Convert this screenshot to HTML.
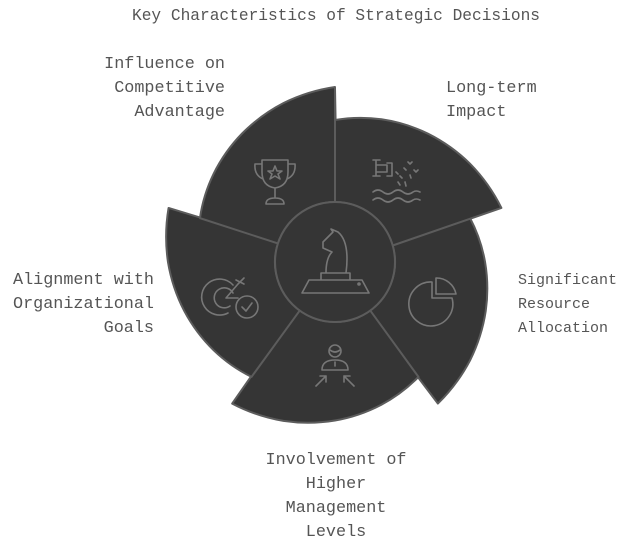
<!DOCTYPE html>
<html><head><meta charset="utf-8"><style>
html,body{margin:0;padding:0;background:#fff;width:624px;height:540px;overflow:hidden}
svg{display:block}
text{font-family:"Liberation Mono",monospace;fill:#555;font-size:16.8px}
</style></head><body>
<svg width="624" height="540" viewBox="0 0 624 540">
<text x="336" y="20" text-anchor="middle" style="font-size:16.2px">Key Characteristics of Strategic Decisions</text>
<defs>
<path id="pet" d="M0,-60 L0,-142 A150,150 0 0 1 46.4,-142.7 A158,158 0 0 1 93.2,-128.2 A165,165 0 0 1 135.1,-98.2 A172,172 0 0 1 166.4,-54.1 L57.7,-16.5 A60,60 0 0 0 0,-60 Z" fill="#353535" stroke="#5c5c5c" stroke-width="2" stroke-linejoin="round"/>
</defs>
<g transform="translate(335,262)">
<use href="#pet" transform="rotate(72)"/>
<use href="#pet" transform="rotate(144)"/>
<use href="#pet" transform="rotate(216)"/>
<use href="#pet" transform="rotate(288)"/>
<use href="#pet" transform="rotate(0)"/>
<path d="M0,-60 L0,-172" stroke="#5c5c5c" stroke-width="2"/>
<circle r="60" fill="#353535" stroke="#5c5c5c" stroke-width="2"/>
</g>
<g fill="none" stroke="#777" stroke-width="1.6" stroke-linecap="round" stroke-linejoin="round">
<path d="M302,293 L309,280 L362,280 L369,293 Z M302,293 L369,293 M321,280 L321,273 L350,273 L350,280 M326,273 Q326,258 332,252 L323,248 L323,242 L333,232 L331,229 L338,232 Q350,242 346,273"/>
<circle cx="359" cy="284" r="1"/>
<path d="M262,160 L288,160 L288,172 Q288,186 275,188 Q262,186 262,172 Z M262,164 L255,164 Q254,175 263,179 M288,164 L295,164 Q296,175 287,179 M275,188 L275,198 M266,204 Q266,198 275,198 Q284,198 284,204 Z M275,166 L277,171 L282,171 L278,174 L280,179 L275,176 L270,179 L272,174 L268,171 L273,171 Z"/>
<path d="M373,160 L380,160 M376,160 L376,176 M373,176 L380,176 M376,165 L387,165 L387,172 L376,172 M387,163 L392,163 L392,176 L387,176 M373,192 Q378,188 383,192 Q388,196 393,192 Q398,188 403,192 Q408,196 413,192 Q416,190 420,192 M373,200 Q378,196 383,200 Q388,204 393,200 Q398,196 403,200 Q408,204 413,200 Q416,198 420,200 M396,172 L398,174 M400,176 L402,178 M398,182 L400,185 M405,182 L406,186 M404,168 L406,170 M410,175 L411,178 M408,162 L410,164 L412,162 M414,170 L416,172 L418,170"/>
<path d="M432,282 A22,22 0 1 0 452,298 L432,298 Z M436,278 L436,294 L456,294 A20,20 0 0 0 436,278 Z"/>
<path d="M233,285 A18,18 0 1 0 228,313 M233,293 A10,10 0 1 0 230,306 M238,298 L226,298 M226,298 L238,284 M236,280 L240,282 L244,278 M238,284 L240,282 L244,284"/>
<circle cx="247" cy="307" r="11"/>
<path d="M242,307 L246,311 L252,303"/>
<circle cx="335" cy="351" r="6"/>
<path d="M330,350 Q335,354 340,350 M322,370 Q322,360 335,360 Q348,360 348,370 Z M335,362 L335,366 M316,386 L326,376 M326,376 L320,376 M326,376 L326,382 M354,386 L344,376 M344,376 L350,376 M344,376 L344,382"/>
</g>
<text x="225" y="68" text-anchor="end">Influence on</text>
<text x="225" y="92" text-anchor="end">Competitive</text>
<text x="225" y="116" text-anchor="end">Advantage</text>
<text x="446" y="92">Long-term</text>
<text x="446" y="116">Impact</text>
<text x="518" y="284" style="font-size:15px">Significant</text>
<text x="518" y="308" style="font-size:15px">Resource</text>
<text x="518" y="332" style="font-size:15px">Allocation</text>
<text x="154" y="284" text-anchor="end">Alignment with</text>
<text x="154" y="308" text-anchor="end">Organizational</text>
<text x="154" y="332" text-anchor="end">Goals</text>
<text x="336" y="464" text-anchor="middle">Involvement of</text>
<text x="336" y="488" text-anchor="middle">Higher</text>
<text x="336" y="512" text-anchor="middle">Management</text>
<text x="336" y="536" text-anchor="middle">Levels</text>
</svg>
</body></html>
